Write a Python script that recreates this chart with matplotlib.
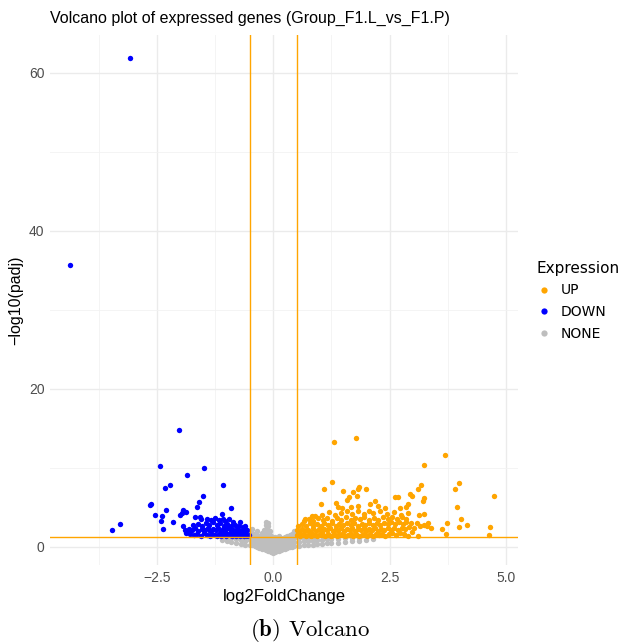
import matplotlib
matplotlib.use('Agg')
import matplotlib.pyplot as plt
from matplotlib.lines import Line2D

# (log2FoldChange, -log10(padj)), one list per group
down_points = [
    (-3.08, 61.9), (-4.37, 35.7), (-2.03, 14.8), (-2.44, 10.2), (-1.48, 10.0),
    (-1.85, 9.1), (-1.09, 7.85), (-2.32, 7.5), (-2.23, 7.8), (-1.51, 6.5),
    (-1.60, 5.7), (-2.65, 5.3), (-2.62, 5.4), (-1.65, 5.0), (-0.90, 4.9),
    (-2.31, 4.7), (-1.94, 4.7), (-1.88, 4.4), (-1.97, 4.3), (-2.55, 4.0),
    (-2.39, 3.9), (-2.00, 4.0), (-2.42, 3.3), (-2.16, 3.1), (-2.37, 2.3),
    (-3.30, 2.95), (-3.46, 2.1), (-1.88, 1.8), (-1.68, 3.75), (-1.58, 3.85),
    (-1.10, 4.2), (-1.09, 3.6), (-1.95, 2.6), (-1.90, 2.2), (-1.86, 1.9),
    (-1.78, 1.6), (-1.71, 1.5), (-1.63, 1.7), (-1.55, 1.45), (-1.49, 1.8),
    (-1.42, 1.55), (-1.37, 1.4), (-1.31, 1.7), (-1.26, 1.5), (-1.21, 1.38),
    (-1.17, 1.65), (-1.12, 1.45), (-1.07, 1.6), (-1.02, 1.4), (-0.98, 1.7),
    (-0.93, 1.5), (-0.89, 1.38), (-0.85, 1.6), (-0.80, 1.45), (-0.76, 1.7),
    (-0.72, 1.4), (-0.68, 1.55), (-0.64, 1.42), (-0.60, 1.6), (-0.57, 1.45),
    (-0.53, 1.5), (-1.82, 2.3), (-1.75, 2.1), (-1.68, 2.4), (-1.61, 2.0),
    (-1.54, 2.3), (-1.47, 2.1), (-1.41, 2.45), (-1.35, 2.0), (-1.29, 2.3),
    (-1.23, 2.1), (-1.18, 2.4), (-1.13, 2.0), (-1.08, 2.25), (-1.03, 2.05),
    (-0.97, 2.35), (-0.92, 2.0), (-0.87, 2.2), (-0.82, 1.95), (-0.77, 2.25),
    (-0.71, 2.0), (-0.66, 2.15), (-0.61, 1.95), (-0.56, 2.1), (-1.72, 2.8),
    (-1.62, 2.95), (-1.53, 2.7), (-1.45, 3.0), (-1.38, 2.75), (-1.30, 3.1),
    (-1.22, 2.8), (-1.15, 3.05), (-1.06, 2.7), (-0.99, 2.9), (-0.91, 2.65),
    (-0.83, 2.8), (-0.74, 2.6), (-0.66, 2.5), (-0.60, 2.7), (-1.55, 3.5),
    (-1.43, 3.6), (-1.34, 3.4), (-1.25, 3.7), (-1.16, 3.45), (-1.04, 3.3),
    (-0.95, 3.5), (-0.86, 3.2), (-0.71, 3.1),
]

up_points = [
    (1.77, 13.8), (1.30, 13.25), (3.69, 11.7), (3.23, 10.4), (1.26, 8.2),
    (4.00, 8.1), (1.08, 7.4), (3.91, 7.4), (1.49, 7.1), (1.84, 7.55),
    (1.81, 7.3), (1.72, 6.9), (2.00, 7.4), (3.18, 7.85), (3.11, 7.4),
    (2.94, 6.75), (2.98, 6.4), (4.75, 6.4), (2.62, 6.3), (2.68, 6.3),
    (1.62, 6.3), (1.59, 5.95), (1.79, 6.4), (3.25, 6.15), (3.22, 5.8),
    (2.18, 5.8), (1.02, 5.5), (1.35, 5.6), (3.94, 5.0), (2.90, 5.4),
    (4.04, 3.6), (4.17, 2.75), (3.99, 2.5), (3.73, 3.0), (3.63, 2.25),
    (3.71, 1.7), (4.66, 2.5), (4.63, 1.5), (3.40, 2.35), (3.33, 3.0),
    (3.23, 2.8), (3.23, 4.2), (3.13, 4.1), (2.90, 1.35), (3.11, 1.4),
    (1.40, 5.0), (1.47, 4.9), (1.67, 5.0), (1.81, 5.2), (2.08, 5.5),
    (2.26, 5.2), (2.40, 4.9), (2.72, 4.9), (2.85, 5.0), (3.08, 3.0),
    (3.02, 2.4), (3.15, 2.6), (2.98, 1.9), (3.30, 2.7),
    (0.52, 1.5), (0.58, 1.4), (0.64, 1.6), (0.70, 1.45), (0.76, 1.7),
    (0.82, 1.4), (0.88, 1.55), (0.94, 1.42), (1.00, 1.65), (1.06, 1.5),
    (1.12, 1.38), (1.18, 1.6), (1.24, 1.45), (1.30, 1.7), (1.36, 1.4),
    (1.42, 1.55), (1.48, 1.65), (1.54, 1.4), (1.60, 1.5), (1.66, 1.7),
    (1.72, 1.45), (1.78, 1.6), (1.84, 1.4), (1.90, 1.55), (1.96, 1.7),
    (2.02, 1.45), (2.08, 1.6), (2.14, 1.4), (2.20, 1.65), (2.27, 1.5),
    (2.34, 1.7), (2.41, 1.45), (2.48, 1.6), (2.56, 1.75), (2.64, 1.55),
    (2.72, 1.8), (2.80, 1.6),
    (0.50, 2.1), (0.56, 1.95), (0.62, 2.3), (0.68, 2.0), (0.74, 2.2),
    (0.80, 1.95), (0.86, 2.35), (0.92, 2.05), (0.98, 2.25), (1.04, 1.95),
    (1.10, 2.3), (1.16, 2.1), (1.22, 2.4), (1.28, 2.0), (1.34, 2.25),
    (1.40, 2.05), (1.46, 2.35), (1.52, 2.0), (1.58, 2.3), (1.64, 2.1),
    (1.70, 2.4), (1.76, 2.0), (1.82, 2.25), (1.88, 2.1), (1.94, 2.35),
    (2.00, 2.0), (2.06, 2.3), (2.12, 2.1), (2.18, 2.4), (2.25, 2.05),
    (2.32, 2.3), (2.39, 2.1), (2.46, 2.35), (2.53, 2.15), (2.60, 2.4),
    (2.68, 2.2), (2.76, 2.45), (2.84, 2.3), (2.92, 2.5),
    (0.54, 2.7), (0.62, 2.9), (0.70, 2.65), (0.78, 3.0), (0.86, 2.75),
    (0.94, 2.95), (1.02, 2.7), (1.10, 3.0), (1.18, 2.8), (1.26, 3.05),
    (1.34, 2.7), (1.42, 2.95), (1.50, 2.75), (1.58, 3.05), (1.66, 2.8),
    (1.74, 3.0), (1.82, 2.7), (1.90, 2.95), (1.98, 2.8), (2.06, 3.05),
    (2.14, 2.75), (2.22, 3.0), (2.30, 2.8), (2.38, 3.05), (2.46, 2.85),
    (2.54, 3.1), (2.62, 2.9), (2.70, 3.15), (2.78, 2.95), (2.86, 3.2),
    (2.95, 3.0),
    (0.66, 3.3), (0.76, 3.5), (0.86, 3.35), (0.96, 3.7), (1.06, 3.4),
    (1.16, 3.65), (1.26, 3.35), (1.36, 3.7), (1.46, 3.45), (1.56, 3.75),
    (1.66, 3.4), (1.76, 3.7), (1.86, 3.5), (1.96, 3.8), (2.06, 3.45),
    (2.16, 3.7), (2.26, 3.4), (2.36, 3.75), (2.46, 3.5), (2.56, 3.8),
    (2.66, 3.55), (2.76, 3.85), (2.86, 3.6),
    (0.90, 3.95), (1.05, 4.1), (1.20, 4.4), (1.32, 4.05), (1.45, 4.3),
    (1.58, 4.6), (1.70, 4.2), (1.82, 4.5), (1.95, 4.15), (2.05, 4.6),
    (2.15, 4.3), (2.30, 4.5), (2.45, 4.2), (2.60, 4.4), (2.75, 4.1),
    (2.90, 4.35), (0.69, 3.6), (0.84, 3.9),
]

none_points = [
    (-0.50, 0.3), (-0.50, 0.9), (-0.50, 1.5), (-0.50, 2.0),
    (-0.45, 0.2), (-0.45, 0.7), (-0.45, 1.2), (-0.45, 1.8), (-0.45, 2.3),
    (-0.40, 0.1), (-0.40, 0.6), (-0.40, 1.1), (-0.40, 1.6),
    (-0.35, 0.0), (-0.35, 0.5), (-0.35, 1.0), (-0.35, 1.5), (-0.35, 2.0),
    (-0.30, -0.1), (-0.30, 0.4), (-0.30, 0.9), (-0.30, 1.4),
    (-0.25, -0.2), (-0.25, 0.3), (-0.25, 0.8), (-0.25, 1.3), (-0.25, 1.8),
    (-0.20, -0.3), (-0.20, 0.2), (-0.20, 0.7), (-0.20, 1.2), (-0.20, 1.7), (-0.20, 2.2),
    (-0.16, -0.35), (-0.16, 0.15), (-0.16, 0.65), (-0.16, 1.15), (-0.16, 1.7),
    (-0.16, 2.3), (-0.16, 2.8), (-0.16, 3.2),
    (-0.12, -0.45), (-0.12, 0.05), (-0.12, 0.6), (-0.12, 1.1), (-0.12, 1.6),
    (-0.12, 2.1), (-0.12, 2.6), (-0.12, 3.0),
    (-0.08, -0.5), (-0.08, 0.0), (-0.08, 0.5), (-0.08, 1.0), (-0.08, 1.5), (-0.08, 2.0),
    (-0.04, -0.6), (-0.04, -0.1), (-0.04, 0.4), (-0.04, 0.9), (-0.04, 1.4),
    (0.00, -0.7), (0.00, -0.2), (0.00, 0.3), (0.00, 0.8), (0.00, 1.3),
    (0.04, -0.6), (0.04, -0.1), (0.04, 0.4), (0.04, 0.9), (0.04, 1.3),
    (0.08, -0.5), (0.08, 0.0), (0.08, 0.5), (0.08, 1.0),
    (0.12, -0.45), (0.12, 0.05), (0.12, 0.55), (0.12, 1.05), (0.12, 1.4),
    (0.16, -0.35), (0.16, 0.15), (0.16, 0.65), (0.16, 1.1),
    (0.20, -0.3), (0.20, 0.2), (0.20, 0.7), (0.20, 1.2),
    (0.25, -0.2), (0.25, 0.3), (0.25, 0.8), (0.25, 1.3),
    (0.30, -0.1), (0.30, 0.4), (0.30, 0.9), (0.30, 1.4),
    (0.35, 0.0), (0.35, 0.5), (0.35, 1.0), (0.35, 1.5),
    (0.40, 0.05), (0.40, 0.55), (0.40, 1.05), (0.40, 1.6),
    (0.45, 0.1), (0.45, 0.6), (0.45, 1.1), (0.45, 1.7), (0.45, 2.0),
    (0.55, 0.15), (0.55, 0.65), (0.55, 1.1),
    (0.65, 0.2), (0.65, 0.7), (0.65, 1.15),
    (0.75, 0.25), (0.75, 0.75), (0.75, 1.2),
    (0.85, 0.3), (0.85, 0.8), (0.85, 1.2),
    (0.95, 0.35), (0.95, 0.85), (1.05, 0.4), (1.05, 0.9),
    (1.15, 0.45), (1.15, 0.95), (1.25, 0.5), (1.25, 1.0),
    (1.40, 0.55), (1.40, 1.05), (1.55, 0.6), (1.55, 1.1),
    (1.70, 0.7), (1.70, 1.15), (1.85, 0.8), (1.85, 1.2),
    (2.00, 0.9), (2.15, 1.0),
    (-0.60, 0.3), (-0.60, 0.8), (-0.60, 1.25), (-0.70, 0.4), (-0.70, 0.9),
    (-0.80, 0.5), (-0.80, 1.0), (-0.90, 0.6), (-0.90, 1.1),
    (-1.00, 0.75), (-1.00, 1.15), (-1.10, 0.9),
]

groups = ['UP', 'DOWN', 'NONE']
group_colors = {'UP': '#FFA500', 'DOWN': '#0000FF', 'NONE': '#BEBEBE'}

lfc_cutoff = 0.5
padj_line = 1.3  # -log10(0.05)

x_ticks = [-2.5, 0.0, 2.5, 5.0]
x_tick_labels = ['\u22122.5', '0.0', '2.5', '5.0']
x_minor = [-3.75, -1.25, 1.25, 3.75]
y_ticks = [0, 20, 40, 60]
y_minor = [10, 30, 50]

sans = ['Liberation Sans', 'DejaVu Sans']

fig = plt.figure(figsize=(6.21, 6.43), dpi=100)
ax = fig.add_axes([50 / 621, 1 - 565 / 643, 468 / 621, 530 / 643])

# grey first, coloured groups on top
for name, pts in [('NONE', none_points), ('UP', up_points), ('DOWN', down_points)]:
    xs = [p[0] for p in pts]
    ys = [p[1] for p in pts]
    ax.scatter(xs, ys, s=15, color=group_colors[name], linewidths=0, zorder=3)

ax.axvline(-lfc_cutoff, color='#FFA500', lw=1.0, zorder=4)
ax.axvline(lfc_cutoff, color='#FFA500', lw=1.0, zorder=4)
ax.axhline(padj_line, color='#FFA500', lw=1.0, zorder=4)

ax.set_xlim(-4.80, 5.26)
ax.set_ylim(-2.28, 64.8)
ax.set_xticks(x_ticks)
ax.set_xticklabels(x_tick_labels)
ax.set_xticks(x_minor, minor=True)
ax.set_yticks(y_ticks)
ax.set_yticks(y_minor, minor=True)

ax.grid(which='major', color='#EBEBEB', lw=1.0)
ax.grid(which='minor', color='#F2F2F2', lw=0.6)
ax.set_axisbelow(True)
for s in ax.spines.values():
    s.set_visible(False)
ax.tick_params(which='both', length=0, colors='#4D4D4D', labelsize=10, pad=4)
for lab in ax.get_xticklabels() + ax.get_yticklabels():
    lab.set_family(sans)

ax.set_xlabel('log2FoldChange', family=sans, fontsize=12, labelpad=3)
ax.set_ylabel('\u2212log10(padj)', family=sans, fontsize=11.5, labelpad=4)
fig.text(50 / 621, 1 - 18 / 643, 'Volcano plot of expressed genes (Group_F1.L_vs_F1.P)',
         family=sans, fontsize=11.5, va='center', ha='left')

handles = [Line2D([], [], marker='o', ls='none', markersize=4.5,
                  markerfacecolor=group_colors[g], markeredgewidth=0) for g in groups]
leg = fig.legend(handles, groups, title='Expression', loc='upper left',
                 bbox_to_anchor=(527 / 621, 1 - 251 / 643), frameon=False,
                 fontsize=10, title_fontsize=11, alignment='left',
                 handletextpad=0.7, labelspacing=0.55, handlelength=1.0,
                 borderaxespad=0.3)

fig.text(0.5, 1 - 631 / 643, r'$\mathbf{(b)}$ Volcano', family='cmr10',
         math_fontfamily='cm', fontsize=16.5, ha='center', va='center')

fig.savefig('out.png', dpi=100)
